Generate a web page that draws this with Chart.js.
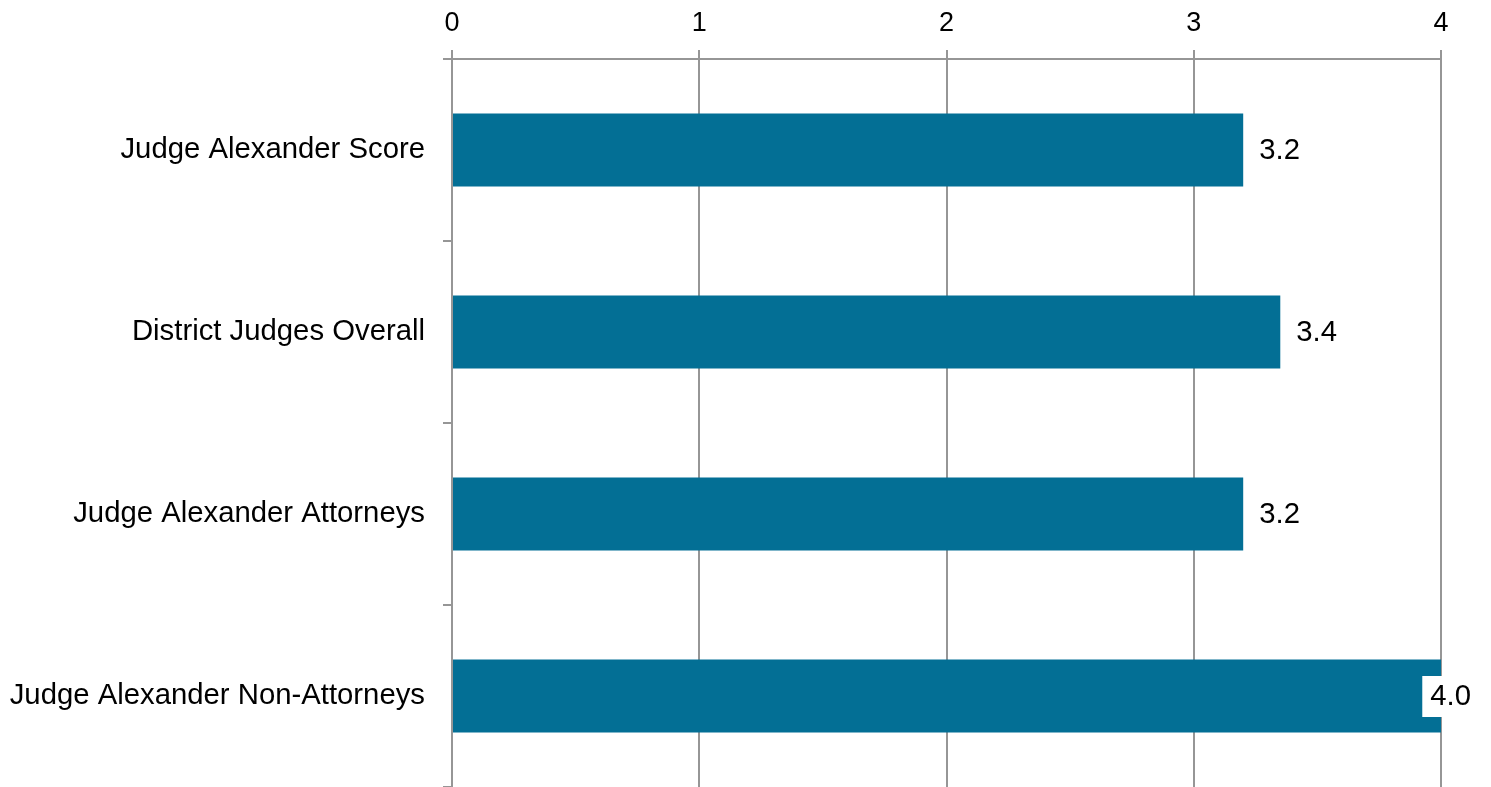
<!DOCTYPE html>
<html>
<head>
<meta charset="utf-8">
<script src="https://cdn.jsdelivr.net/npm/chart.js@4"></script>
<style>
  html, body { margin: 0; padding: 0; background: #fff; }
  #wrap { width: 1491px; height: 787px; position: relative; }
</style>
</head>
<body>
<div id="wrap"><canvas id="scores"></canvas></div>
<script>
const categories = ['Judge Alexander Score', 'District Judges Overall', 'Judge Alexander Attorneys', 'Judge Alexander Non-Attorneys'];
const scores = [3.2, 3.35, 3.2, 4.0];
const shownLabels = ['3.2', '3.4', '3.2', '4.0'];

const gridGray = '#969696';

// value labels next to each bar, white box behind (like the Excel export)
const barLabels = {
  id: 'barLabels',
  afterDatasetsDraw(chart) {
    const ctx = chart.ctx;
    const meta = chart.getDatasetMeta(0);
    ctx.save();
    ctx.font = '29.3px "Liberation Sans", Arial, sans-serif';
    ctx.textBaseline = 'middle';
    meta.data.forEach((bar, i) => {
      const txt = shownLabels[i];
      const w = ctx.measureText(txt).width;
      let x = bar.x + 16;
      if (x + w > chart.width - 20) x = chart.width - 20 - w;
      ctx.fillStyle = '#fff';
      ctx.fillRect(x - 8, bar.y - 20, w + 16, 41);
      ctx.fillStyle = '#000';
      ctx.fillText(txt, x, bar.y + 1);
    });
    ctx.restore();
  }
};

new Chart(document.getElementById('scores'), {
  type: 'bar',
  data: {
    labels: categories,
    datasets: [{
      data: scores,
      backgroundColor: '#036f95',
      borderWidth: 0,
      barPercentage: 0.4,
      categoryPercentage: 1.0
    }]
  },
  options: {
    indexAxis: 'y',
    responsive: true,
    maintainAspectRatio: false,
    animation: false,
    layout: { padding: { left: 0, right: 50, top: 0, bottom: 0 } },
    plugins: {
      legend: { display: false },
      tooltip: { enabled: false }
    },
    scales: {
      x: {
        position: 'top',
        min: 0,
        max: 4,
        ticks: {
          stepSize: 1,
          color: '#000',
          padding: 10,
          font: { family: '"Liberation Sans", Arial, sans-serif', size: 27 }
        },
        grid: { color: gridGray, lineWidth: 2, tickLength: 9 },
        border: { color: gridGray, width: 2 },
        afterFit(scale) { scale.height = 59; scale.paddingLeft = 0; scale.paddingRight = 0; }
      },
      y: {
        offset: true,
        ticks: {
          color: '#000',
          padding: 18,
          font: { family: '"Liberation Sans", Arial, sans-serif', size: 29.3 }
        },
        grid: { offset: true, drawOnChartArea: false, color: gridGray, lineWidth: 2, tickLength: 9 },
        border: { color: gridGray, width: 2 },
        afterFit(scale) { scale.width = 452; scale.paddingTop = 0; scale.paddingBottom = 0; }
      }
    }
  },
  plugins: [barLabels]
});
</script>
</body>
</html>
